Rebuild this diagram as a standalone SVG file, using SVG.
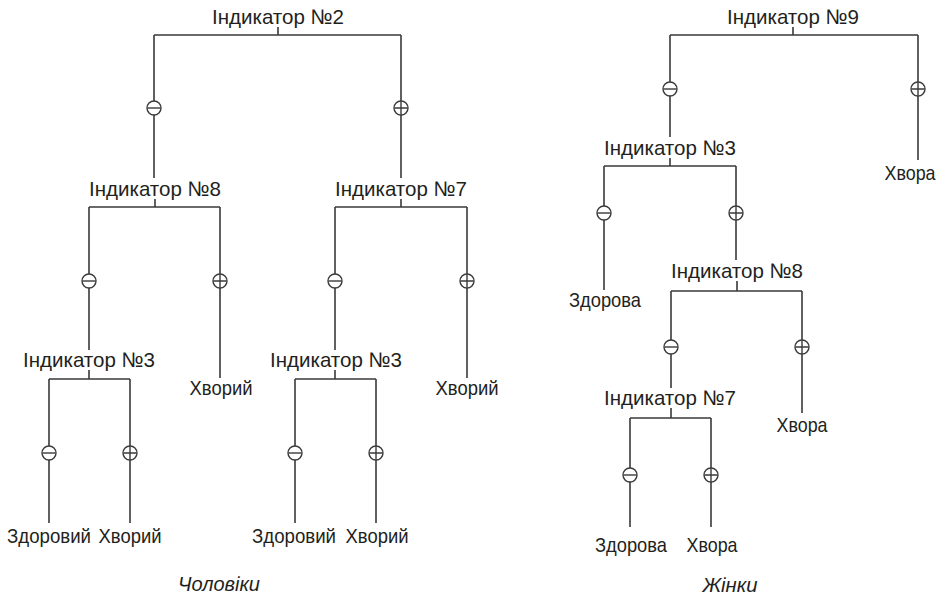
<svg xmlns="http://www.w3.org/2000/svg" xmlns:xlink="http://www.w3.org/1999/xlink" width="946" height="596" viewBox="0 0 946 596">
<style>
  .t{font-family:"Liberation Sans","DejaVu Sans",sans-serif;font-size:21px;fill:#231f20;text-anchor:middle}
  .it{font-style:italic}
  .c{fill:none;stroke:#3a3a3a;stroke-width:1.6}
  .s{fill:#fff;stroke:#3a3a3a;stroke-width:1.4}
</style>
<defs>
  <g id="minus"><circle class="s" r="7"/><path class="s" d="M-6.5 0H6.5"/></g>
  <g id="plus"><circle class="s" r="7"/><path class="s" d="M-6.5 0H6.5M0 -6.5V6.5"/></g>
</defs>
<rect width="946" height="596" fill="#fff"/>
<g id="connectors" class="c">
  <path d="M278 27V35M154 35H401M154 35V178M401 35V178"/>
  <path d="M155 199V207M89 207H220M89 207V350M220 207V378"/>
  <path d="M401 199V207M335 207H467M335 207V350M467 207V378"/>
  <path d="M89 370V379M49 379H130M49 379V523M130 379V523"/>
  <path d="M335 370V379M295 379H376M295 379V523M376 379V523"/>
  <path d="M793 27V35M670 35H918M670 35V137M918 35V160"/>
  <path d="M670 158V166M604 166H736M604 166V290M736 166V260"/>
  <path d="M737 281V291M671 291H802M671 291V388M802 291V413"/>
  <path d="M671 408V418M630 418H711M630 418V527M711 418V527"/>
</g>
<g id="signs">
  <use xlink:href="#minus" x="154" y="108"/><use xlink:href="#plus" x="401" y="108"/>
  <use xlink:href="#minus" x="89" y="281"/><use xlink:href="#plus" x="220" y="281"/>
  <use xlink:href="#minus" x="335" y="281"/><use xlink:href="#plus" x="467" y="281"/>
  <use xlink:href="#minus" x="49" y="453"/><use xlink:href="#plus" x="130" y="453"/>
  <use xlink:href="#minus" x="295" y="453"/><use xlink:href="#plus" x="376" y="453"/>
  <use xlink:href="#minus" x="670" y="89"/><use xlink:href="#plus" x="918" y="89"/>
  <use xlink:href="#minus" x="604" y="213"/><use xlink:href="#plus" x="736" y="213"/>
  <use xlink:href="#minus" x="671" y="347"/><use xlink:href="#plus" x="802" y="347"/>
  <use xlink:href="#minus" x="630" y="475"/><use xlink:href="#plus" x="711" y="475"/>
</g>
<g id="n2"><text class="t" x="278" y="24" textLength="132" lengthAdjust="spacingAndGlyphs">Індикатор №2</text></g>
<g id="n8"><text class="t" x="155" y="196" textLength="132" lengthAdjust="spacingAndGlyphs">Індикатор №8</text></g>
<g id="n7"><text class="t" x="401" y="196" textLength="132" lengthAdjust="spacingAndGlyphs">Індикатор №7</text></g>
<g id="n3a"><text class="t" x="89" y="367" textLength="132" lengthAdjust="spacingAndGlyphs">Індикатор №3</text></g>
<g id="n3b"><text class="t" x="336" y="367" textLength="132" lengthAdjust="spacingAndGlyphs">Індикатор №3</text></g>
<g id="leaf1"><text class="t" x="221" y="395" textLength="63" lengthAdjust="spacingAndGlyphs">Хворий</text></g>
<g id="leaf2"><text class="t" x="467" y="395" textLength="63" lengthAdjust="spacingAndGlyphs">Хворий</text></g>
<g id="leaf3"><text class="t" x="49" y="543" textLength="84" lengthAdjust="spacingAndGlyphs">Здоровий</text></g>
<g id="leaf4"><text class="t" x="130" y="543" textLength="63" lengthAdjust="spacingAndGlyphs">Хворий</text></g>
<g id="leaf5"><text class="t" x="294" y="543" textLength="84" lengthAdjust="spacingAndGlyphs">Здоровий</text></g>
<g id="leaf6"><text class="t" x="377" y="543" textLength="63" lengthAdjust="spacingAndGlyphs">Хворий</text></g>
<g id="cap1"><text class="t it" x="219" y="591" textLength="82" lengthAdjust="spacingAndGlyphs">Чоловіки</text></g>
<g id="n9"><text class="t" x="793" y="24" textLength="132" lengthAdjust="spacingAndGlyphs">Індикатор №9</text></g>
<g id="n3c"><text class="t" x="670" y="155" textLength="132" lengthAdjust="spacingAndGlyphs">Індикатор №3</text></g>
<g id="n8b"><text class="t" x="737" y="278" textLength="132" lengthAdjust="spacingAndGlyphs">Індикатор №8</text></g>
<g id="n7b"><text class="t" x="670" y="405" textLength="132" lengthAdjust="spacingAndGlyphs">Індикатор №7</text></g>
<g id="leaf7"><text class="t" x="910" y="180" textLength="51" lengthAdjust="spacingAndGlyphs">Хвора</text></g>
<g id="leaf8"><text class="t" x="605" y="307" textLength="72" lengthAdjust="spacingAndGlyphs">Здорова</text></g>
<g id="leaf9"><text class="t" x="802" y="432" textLength="51" lengthAdjust="spacingAndGlyphs">Хвора</text></g>
<g id="leaf10"><text class="t" x="631" y="552" textLength="72" lengthAdjust="spacingAndGlyphs">Здорова</text></g>
<g id="leaf11"><text class="t" x="712" y="552" textLength="51" lengthAdjust="spacingAndGlyphs">Хвора</text></g>
<g id="cap2"><text class="t it" x="730" y="592" textLength="55" lengthAdjust="spacingAndGlyphs">Жінки</text></g>
</svg>
